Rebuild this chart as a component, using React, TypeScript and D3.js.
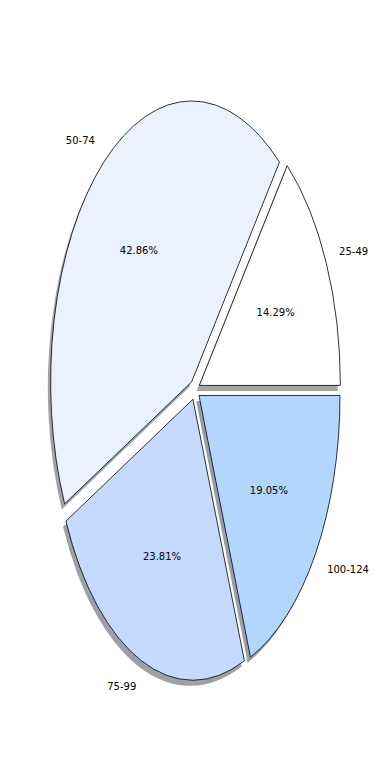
import React from "react";
import * as d3 from "d3";

const labels = ["25-49", "50-74", "75-99", "100-124"];
const values = [3, 9, 5, 4];
const colors = ["#ffffff", "#eaf1ff", "#c6d9ff", "#b3d6ff"];
const explode = [0.036, 0.036, 0.036, 0.036];

const W = 390;
const H = 780;
const cx = 194.8;
const cy = 389.8;
const rx = 141;
const ry = 281;
const shadowDx = -0.02;
const shadowDy = -0.02;

export default function App() {
  const total = d3.sum(values);
  const pie = d3
    .pie<number>()
    .sort(null)
    .startAngle(Math.PI / 2)
    .endAngle(Math.PI / 2 - 2 * Math.PI)(values);
  const arc = d3.arc<any>().innerRadius(0).outerRadius(1);
  const fmt = d3.format(".2f");

  const items = pie.map((p, i) => {
    const mid = Math.PI / 2 - (p.startAngle + p.endAngle) / 2; // math angle
    const ox = explode[i] * Math.cos(mid);
    const oy = explode[i] * Math.sin(mid);
    const sx = (u: number) => cx + u * rx;
    const sy = (v: number) => cy - v * ry;
    const lx = ox + 1.1 * Math.cos(mid);
    const ly = oy + 1.1 * Math.sin(mid);
    const px = ox + 0.6 * Math.cos(mid);
    const py = oy + 0.6 * Math.sin(mid);
    const fc = d3.rgb(colors[i]);
    const shade = d3.rgb(fc.r * 0.3, fc.g * 0.3, fc.b * 0.3);
    return {
      i,
      d: arc(p) as string,
      tx: sx(ox),
      ty: sy(oy),
      stx: sx(ox + shadowDx),
      sty: sy(oy + shadowDy),
      shade: shade.formatHex(),
      lx: sx(lx),
      ly: sy(ly),
      anchor: lx > 0 ? "start" : "end",
      px: sx(px),
      py: sy(py),
      pct: fmt((values[i] / total) * 100) + "%",
    };
  });

  return (
    <svg
      width={W}
      height={H}
      style={{ position: "absolute", left: 0, top: 0, background: "#fff" }}
      fontFamily="DejaVu Sans"
      fontSize={10}
    >
      <rect width={W} height={H} fill="#fff" />
      {items.map((it) => (
        <g key={"s" + it.i} transform={`translate(${it.stx},${it.sty}) scale(${rx},${ry})`}>
          <path d={it.d} fill={it.shade} fillOpacity={0.5} stroke="none" />
        </g>
      ))}
      {items.map((it) => (
        <g key={"w" + it.i} transform={`translate(${it.tx},${it.ty}) scale(${rx},${ry})`}>
          <path
            d={it.d}
            fill={colors[it.i]}
            stroke="#000"
            strokeWidth={0.8}
            strokeLinejoin="miter"
            vectorEffect="non-scaling-stroke"
          />
        </g>
      ))}
      {items.map((it) => (
        <text
          key={"l" + it.i}
          x={it.lx}
          y={it.ly}
          textAnchor={it.anchor}
          dominantBaseline="central"
          fill="#000"
        >
          {labels[it.i]}
        </text>
      ))}
      {items.map((it) => (
        <text
          key={"p" + it.i}
          x={it.px}
          y={it.py}
          textAnchor="middle"
          dominantBaseline="central"
          fill="#000"
        >
          {it.pct}
        </text>
      ))}
    </svg>
  );
}
